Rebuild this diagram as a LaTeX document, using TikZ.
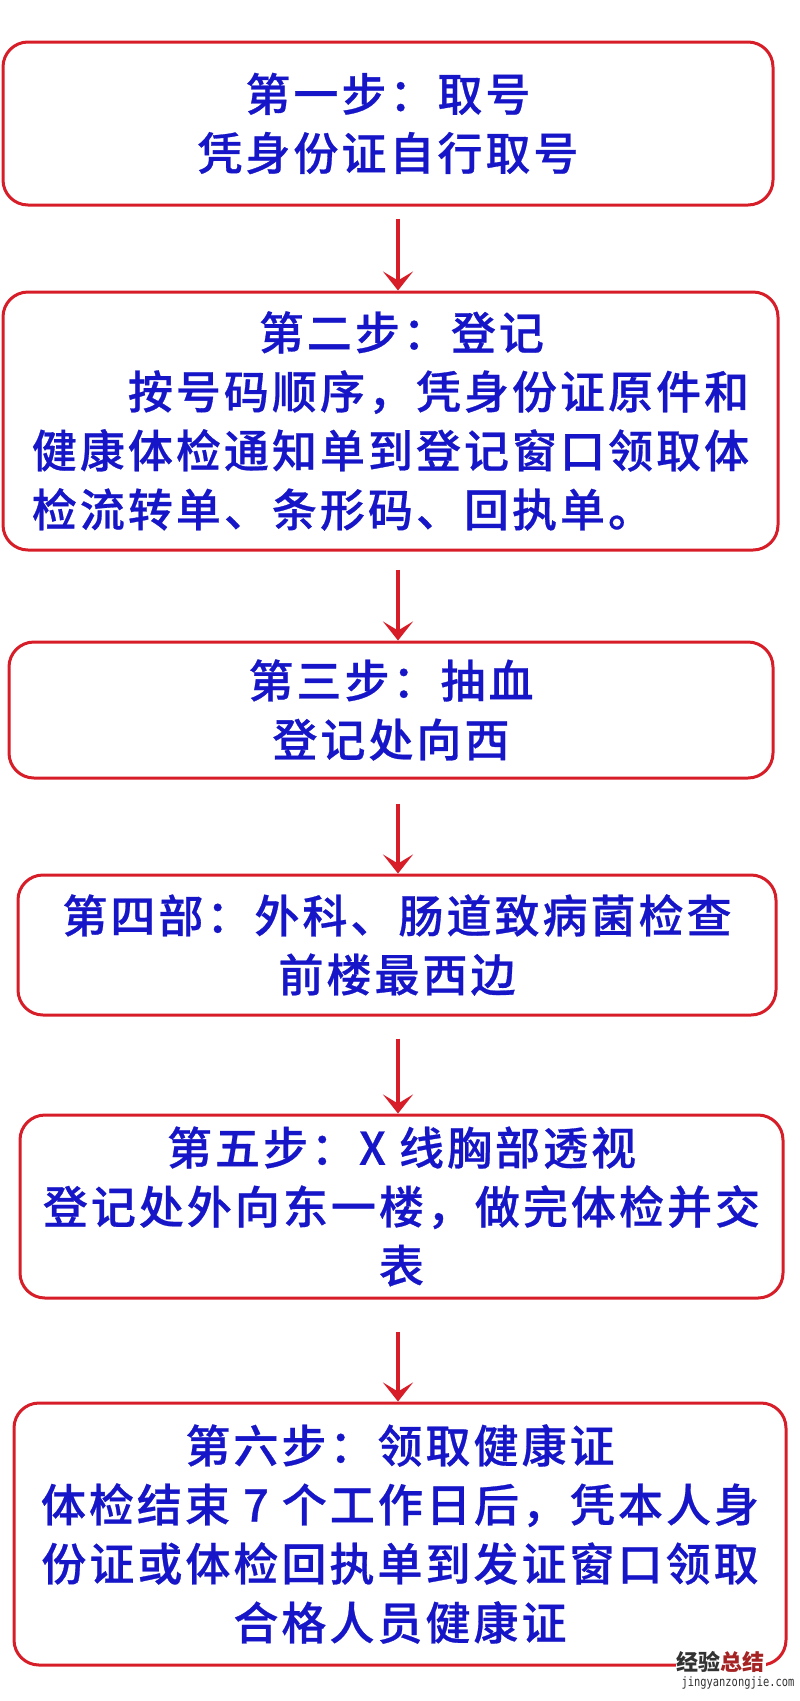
\documentclass[tikz,border=0pt]{standalone}
\usepackage{fontspec}
\newfontfamily\cjk{Noto Sans CJK SC Medium}[LetterSpace=6.7,FakeBold=0.6]
\newfontfamily\markfont{Noto Sans CJK SC}
\newfontfamily\urlfont{DejaVu Sans Mono}
\usetikzlibrary{arrows.meta}
\definecolor{boxred}{RGB}{215,30,40}
\definecolor{textblue}{RGB}{22,22,200}
\definecolor{markred}{RGB}{165,35,35}
\definecolor{markgray}{RGB}{50,50,50}
\tikzset{
  stepbox/.style={draw=boxred,line width=3pt,rounded corners=25pt,fill=white,
    text=textblue,inner sep=0pt,align=center,
    font=\cjk\fontsize{45}{59}\selectfont},
  flow/.style={draw=boxred,line width=3.5pt,
    -{Stealth[length=19pt,width=30pt,inset=9pt]}}
}
\begin{document}
\begin{tikzpicture}[x=1pt,y=-1pt]
\useasboundingbox(0,0)rectangle(800,1701);
\coordinate(ax)at(398,0);
\node[stepbox,minimum width=770pt,minimum height=163pt](b1)at(388,123.5){第一步：取号\\凭身份证自行取号};
\node[stepbox,minimum width=775pt,minimum height=258pt,align=left](b2)at(390.5,421){\hspace*{227pt}第二步：登记\\　　按号码顺序，凭身份证原件和\\健康体检通知单到登记窗口领取体\\检流转单、条形码、回执单。};
\node[stepbox,minimum width=764pt,minimum height=136pt](b3)at(391,710){第三步：抽血\\登记处向西};
\node[stepbox,minimum width=758pt,minimum height=140pt](b4)at(397,945){第四部：外科、肠道致病菌检查\\前楼最西边};
\node[stepbox,minimum width=763pt,minimum height=183pt](b5)at(401.5,1206.5){第五步：X 线胸部透视\\登记处外向东一楼，做完体检并交\\表};
\node[stepbox,minimum width=772pt,minimum height=262pt](b6)at(400,1534){第六步：领取健康证\\体检结束 7 个工作日后，凭本人身\\份证或体检回执单到发证窗口领取\\合格人员健康证};
\draw[flow]([yshift=-12pt]ax|-b1.south)--(ax|-b2.north);
\draw[flow]([yshift=-18pt]ax|-b2.south)--(ax|-b3.north);
\draw[flow]([yshift=-24pt]ax|-b3.south)--(ax|-b4.north);
\draw[flow]([yshift=-22pt]ax|-b4.south)--(ax|-b5.north);
\draw[flow]([yshift=-32pt]ax|-b5.south)--(ax|-b6.north);
% watermark
\node[font=\markfont\bfseries\fontsize{22}{22}\selectfont,text=markgray,fill=white,inner sep=1pt,anchor=north east](wm)at(766,1650){经验\textcolor{markred}{总结}};
\node[font=\urlfont\fontsize{13}{13}\selectfont,text=markgray,inner sep=0pt,anchor=north](wmurl)at(738,1676){\scalebox{0.8}[1]{jingyanzongjie.com}};
\end{tikzpicture}
\end{document}
